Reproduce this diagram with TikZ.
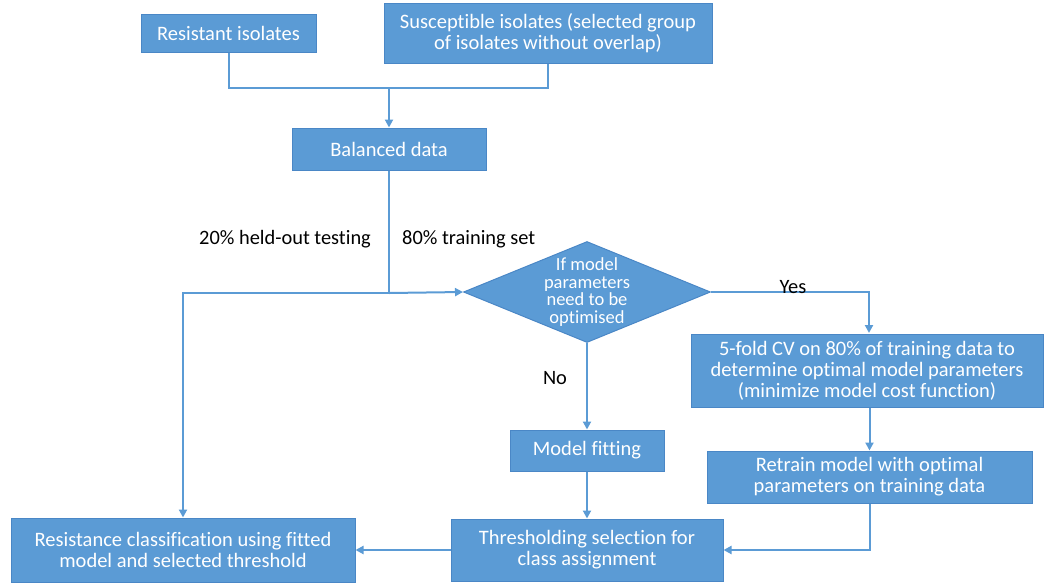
\documentclass[tikz,border=0pt]{standalone}
\usepackage{fontspec}
\setmainfont{Carlito}[Ligatures={NoCommon}]
\usetikzlibrary{shapes.geometric,arrows.meta,calc}
\definecolor{boxblue}{HTML}{5B9BD5}
\definecolor{edgeblue}{HTML}{4A87C6}
\definecolor{lineblue}{HTML}{5B9BD5}
\begin{document}
\begin{tikzpicture}[x=1pt,y=-1pt,
  blk/.style={draw=edgeblue,line width=1pt,fill=boxblue,text=white,inner sep=0pt,
    align=center,font=\fontsize{20.5}{21}\selectfont},
  conn/.style={draw=lineblue,line width=2pt},
  arr/.style={conn,-{Triangle[length=8pt,width=8pt]}},
  lbl/.style={font=\fontsize{20.4}{21}\selectfont,text=black,inner sep=0pt}]
\useasboundingbox (0,0) rectangle (1045,582);
\node[blk,minimum width=175,minimum height=38] (res) at (228.5,33) {Resistant isolates};
\node[blk,minimum width=328,minimum height=60] (sus) at (548,33) {Susceptible isolates (selected group\\of isolates without overlap)};
\node[blk,minimum width=194,minimum height=42] (bal) at (389,149) {Balanced data};
\node[diamond,draw=edgeblue,line width=1pt,fill=boxblue,inner sep=0pt,minimum width=247,minimum height=101] (dia) at (587,292) {};
\node[text=white,align=center,inner sep=0pt,font=\fontsize{18.5}{17.5}\selectfont] (diat) at (587,292) {If model\\parameters\\need to be\\optimised};
\node[blk,minimum width=352,minimum height=73] (cv) at (867,370.5) {5-fold CV on 80\% of training data to\\determine optimal model parameters\\(minimize model cost function)};
\node[blk,minimum width=325,minimum height=52] (ret) at (869.5,477) {Retrain model with optimal\\parameters on training data};
\node[blk,minimum width=154,minimum height=41] (fit) at (587,450.5) {Model fitting};
\node[blk,minimum width=272,minimum height=62] (thr) at (587,550) {Thresholding selection for\\class assignment};
\node[blk,minimum width=344,minimum height=64] (cls) at (183,550) {Resistance classification using fitted\\model and selected threshold};
\coordinate (j1) at (389,88);
\coordinate (split) at (389,293);
\draw[conn] (res.south) |- (j1) -| (sus.south);
\draw[arr] (j1) -- (bal.north);
\draw[conn] (bal.south) -- (split);
\draw[arr] (split) -- (dia.west);
\draw[arr] (split) -| (cls.north);
\draw[arr] (dia.east) -| (869,333) coordinate (cvtop);
\draw[arr] (cv.south -| ret.north) -- (ret.north);
\draw[arr] (dia.south) -- (fit.north);
\draw[arr] (fit.south) -- (thr.north);
\draw[arr] (ret.south) |- (thr.east);
\draw[arr] (thr.west) -- (cls.east);
\node[lbl] (l20) at (285,239) {20\% held-out testing};
\node[lbl,anchor=west] (l80) at (402,239) {80\% training set};
\node[lbl] (lyes) at (793,287) {Yes};
\node[lbl] (lno) at (555,378) {No};
\end{tikzpicture}
\end{document}
